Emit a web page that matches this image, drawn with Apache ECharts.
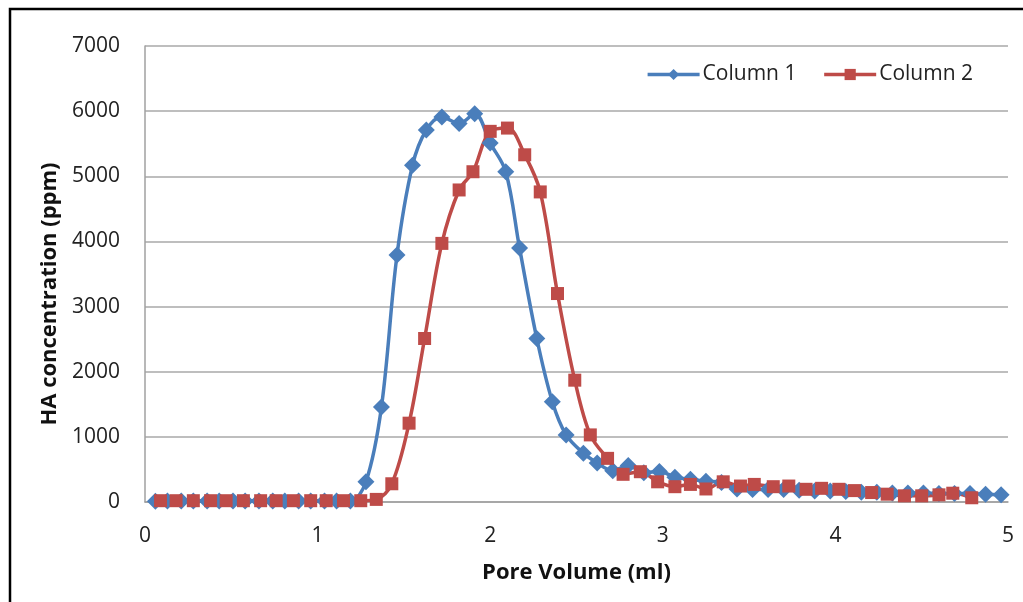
<!DOCTYPE html>
<html><head><meta charset="utf-8">
<script src="https://cdn.jsdelivr.net/npm/echarts@6/dist/echarts.min.js"></script>
<style>html,body{margin:0;padding:0;background:#fff;}#c{width:1023px;height:602px;}</style>
</head><body><div id="c"></div>
<script>
// Column 1 (blue diamonds): pore volume (ml) and HA concentration (ppm)
const col1X = [0.06,0.13,0.21,0.28,0.36,0.43,0.51,0.58,0.66,0.74,0.81,0.89,0.96,1.04,1.11,1.19,
  1.28,1.37,1.46,1.55,1.63,1.72,1.82,1.91,2.00,2.09,2.17,2.27,2.36,2.44,2.54,2.62,2.71,2.80,2.89,2.98,
  3.07,3.16,3.25,3.34,3.43,3.52,3.61,3.70,3.79,3.88,3.97,4.06,4.15,4.24,4.33,4.42,4.51,4.60,4.69,4.78,4.87,4.96];
const col1Y = [10,15,15,15,15,15,15,15,15,15,15,15,15,15,15,15,
  310,1460,3790,5170,5710,5910,5810,5960,5510,5070,3900,2510,1540,1030,750,600,480,560,450,470,
  380,350,320,300,200,190,190,190,180,170,170,160,150,150,140,140,140,130,130,130,120,110];
// Column 2 (red squares)
const col2X = [0.09,0.18,0.28,0.38,0.47,0.57,0.67,0.76,0.86,0.96,1.05,1.15,1.25,1.34,
  1.43,1.53,1.62,1.72,1.82,1.90,2.00,2.10,2.20,2.29,2.39,2.49,2.58,2.68,2.77,2.87,2.97,
  3.07,3.16,3.25,3.35,3.45,3.53,3.64,3.73,3.83,3.92,4.02,4.11,4.21,4.30,4.40,4.50,4.60,4.68,4.79];
const col2Y = [20,20,20,20,20,20,20,20,20,20,20,20,20,40,
  280,1210,2510,3970,4790,5070,5690,5740,5330,4760,3200,1870,1030,670,425,465,310,
  235,270,200,310,245,270,235,245,195,210,195,175,145,120,95,95,110,135,65];
const seriesNames = ['Column 1','Column 2'];
const xTicks = {min:0, max:5, interval:1};
const yTicks = {min:0, max:7000, interval:1000};

const pair = (xs, ys) => xs.map((x,i)=>[x, ys[i]]);
const chart = echarts.init(document.getElementById('c'), null, {renderer:'canvas'});
const FONT = 'Open Sans';
chart.setOption({
  animation:false,
  backgroundColor:'#fff',
  graphic:[{type:'rect', shape:{x:10,y:9,width:1030,height:620}, style:{fill:'none', stroke:'#000', lineWidth:2.5}, silent:true}],
  grid:{left:145, right:15, top:46, bottom:100, containLabel:false},
  legend:{
    data:seriesNames, right:45, top:59, itemWidth:52, itemHeight:14, itemGap:26,
    lineStyle:{width:3.5},
    textStyle:{fontFamily:FONT, fontSize:21, color:'#222', padding:[0,0,0,-2]}
  },
  xAxis:{
    type:'value', min:xTicks.min, max:xTicks.max, interval:xTicks.interval,
    name:'Pore Volume (ml)', nameLocation:'middle', nameGap:60,
    nameTextStyle:{fontFamily:FONT, fontSize:22, fontWeight:'bold', color:'#111'},
    axisLine:{show:true, lineStyle:{color:'#a0a0a0', width:1.5}},
    axisTick:{show:false},
    splitLine:{show:false},
    axisLabel:{fontFamily:FONT, fontSize:21, color:'#222', margin:24}
  },
  yAxis:{
    type:'value', min:yTicks.min, max:yTicks.max, interval:yTicks.interval,
    name:'HA concentration (ppm)', nameLocation:'middle', nameGap:84,
    nameTextStyle:{fontFamily:FONT, fontSize:22, fontWeight:'bold', color:'#111', padding:[0,40,0,0]},
    axisLine:{show:true, lineStyle:{color:'#a0a0a0', width:1.5}},
    axisTick:{show:false},
    splitLine:{show:true, lineStyle:{color:'#a8a8a8', width:1.5}},
    axisLabel:{fontFamily:FONT, fontSize:21, color:'#222', margin:25, formatter:v=>String(v)}
  },
  series:[
    {name:seriesNames[0], type:'line', data:pair(col1X,col1Y), smooth:0.35,
     symbol:'diamond', symbolSize:17, showAllSymbol:true,
     itemStyle:{color:'#4A7EBB'}, lineStyle:{color:'#4A7EBB', width:3.5}},
    {name:seriesNames[1], type:'line', data:pair(col2X,col2Y), smooth:0.35,
     symbol:'rect', symbolSize:13, showAllSymbol:true,
     itemStyle:{color:'#BE4B48'}, lineStyle:{color:'#BE4B48', width:3.5}}
  ]
});
</script></body></html>
